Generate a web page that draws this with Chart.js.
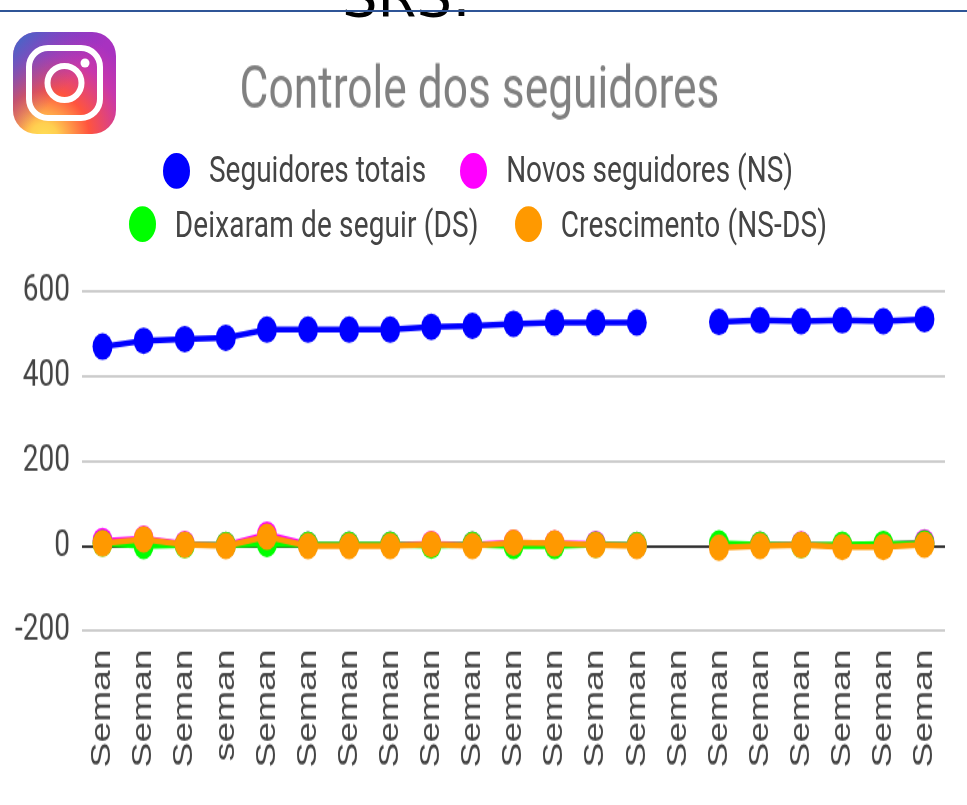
<!DOCTYPE html>
<html>
<head>
<meta charset="utf-8">
<title>Controle dos seguidores</title>
<script src="https://cdn.jsdelivr.net/npm/chart.js@4"></script>
<style>
  html, body { margin: 0; padding: 0; background: #fff; overflow: hidden; }
  #page { position: relative; width: 967px; height: 805px; overflow: hidden; }
  #heading { position: absolute; left: 342px; top: -30px; font: 56px/54px "DejaVu Sans", sans-serif; color: #000; }
  #rule { position: absolute; left: 0; right: 0; top: 10px; height: 2px; background: #2f5597; }
  #logo { position: absolute; left: 13px; top: 32px; width: 103px; height: 102px; }
  /* the source picture is stretched vertically, so the whole chart is too */
  #stage { position: absolute; left: 0; top: 0; width: 967px; height: 605px; transform: scaleY(1.33); transform-origin: 0 0; }
  #legend { position: absolute; left: 0; top: 108px; width: 956px; font: 28px Roboto, sans-serif; color: #444; filter: blur(0.4px); }
  .row { display: flex; justify-content: center; gap: 34px; height: 40.6px; line-height: 40.6px; }
  .row + .row { gap: 36px; letter-spacing: 0.15px; }
  .item { display: flex; align-items: center; white-space: nowrap; }
  .dot { width: 27px; height: 27px; border-radius: 50%; margin-right: 19px; }
</style>
</head>
<body>
<div id="page">
  <div id="heading">SRS:</div>
  <div id="rule"></div>
  <svg id="logo" viewBox="0 0 103 102">
    <defs>
      <radialGradient id="warm" cx="0.3" cy="1.02" r="1.05">
        <stop offset="0" stop-color="#ffdd55"/>
        <stop offset="0.12" stop-color="#ffcf50"/>
        <stop offset="0.42" stop-color="#ff543e"/>
        <stop offset="0.75" stop-color="#c837ab"/>
        <stop offset="1" stop-color="#a832c0"/>
      </radialGradient>
      <linearGradient id="cool" x1="0" y1="0" x2="0.55" y2="0.5">
        <stop offset="0" stop-color="#3771c8"/>
        <stop offset="1" stop-color="#6f3cc8" stop-opacity="0"/>
      </linearGradient>
    </defs>
    <rect width="103" height="102" rx="24" fill="url(#warm)"/>
    <rect width="103" height="102" rx="24" fill="url(#cool)"/>
    <rect x="16" y="16" width="71" height="70" rx="19" fill="none" stroke="#fff" stroke-width="6"/>
    <circle cx="51.500" cy="51" r="17" fill="none" stroke="#fff" stroke-width="6"/>
    <circle cx="72" cy="31" r="4.500" fill="#fff"/>
  </svg>
  <div id="stage">
    <canvas id="chart" width="967" height="605" style="display:block;width:967px;height:605px"></canvas>
    <div id="legend"></div>
  </div>
</div>
<script>
const TITLE = "Controle dos seguidores";
const weeks = ["Seman", "Seman", "Seman", "seman", "Seman", "Seman", "Seman", "Seman", "Seman", "Seman", "Seman",
  "Seman", "Seman", "Seman", "Seman", "Seman", "Seman", "Seman", "Seman", "Seman", "Seman"];
const yTicks = [600, 400, 200, 0, -200];

const total  = [470, 484, 488, 491, 510, 510, 510, 510, 517, 519, 524, 527, 527, 527, null, 528, 532, 530, 532, 530, 535];
const novos  = [12, 17, 5, 2, 27, 3, 3, 3, 5, 3, 8, 6, 5, 2, null, 2, 3, 4, 1, 3, 9];
const deixar = [6, 0, 2, 2, 5, 3, 3, 3, 1, 3, 0, 0, 3, 2, null, 6, 3, 2, 3, 5, 6];
const cresc  = [6, 16, 3, 0, 22, 0, 0, 0, 4, 0, 8, 6, 2, 0, null, -4, 0, 2, -2, -2, 3];

const seriesNames = ["Seguidores totais", "Novos seguidores (NS)", "Deixaram de seguir (DS)", "Crescimento (NS-DS)"];
const seriesColors = ["#0000ff", "#ff00ff", "#00ff00", "#ff9900"];
const seriesValues = [total, novos, deixar, cresc];

const legend = document.getElementById("legend");
[[0, 1], [2, 3]].forEach(idx => {
  const row = document.createElement("div");
  row.className = "row";
  row.innerHTML = idx.map(i =>
    `<span class="item"><span class="dot" style="background:${seriesColors[i]}"></span>${seriesNames[i]}</span>`
  ).join("");
  legend.appendChild(row);
});

new Chart(document.getElementById("chart"), {
  type: "line",
  data: {
    labels: weeks,
    datasets: seriesValues.map((values, i) => ({
      label: seriesNames[i],
      data: values,
      borderColor: seriesColors[i],
      backgroundColor: seriesColors[i],
      borderWidth: 4.5,
      pointRadius: 10,
      pointBorderWidth: 0,
      tension: 0,
      spanGaps: false,
      order: seriesValues.length - i,
    })),
  },
  options: {
    responsive: false,
    animation: false,
    layout: { padding: { top: 0, right: 22, bottom: 14, left: 14 } },
    plugins: {
      legend: { display: false },
      tooltip: { enabled: false },
      title: {
        display: true,
        text: TITLE,
        color: "#808080",
        font: { family: "Roboto, sans-serif", size: 44.300, weight: "normal" },
        padding: { top: 43, bottom: 123 },
      },
    },
    scales: {
      x: {
        offset: true,
        afterFit: s => { s.paddingLeft = 0; s.paddingRight = 0; },
        grid: { display: false, drawTicks: false },
        border: { display: false },
        ticks: {
          autoSkip: false,
          minRotation: 90,
          maxRotation: 90,
          padding: 14,
          color: "#444",
          font: { family: "'Liberation Sans', Arial, sans-serif", size: 28 },
        },
      },
      y: {
        min: -200,
        max: 600,
        afterFit: s => { s.width = 68; },
        afterBuildTicks: s => { s.ticks = yTicks.map(value => ({ value })); },
        grid: {
          drawTicks: false,
          lineWidth: 2,
          color: ctx => ctx.tick.value === 0 ? "#333333" : "#cccccc",
        },
        border: { display: false },
        ticks: {
          padding: 12,
          color: "#444",
          font: { family: "Roboto, sans-serif", size: 28 },
        },
      },
    },
  },
});
</script>
</body>
</html>
